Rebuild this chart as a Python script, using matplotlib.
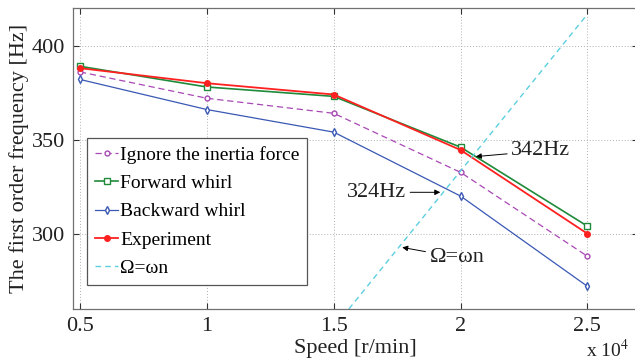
import matplotlib

matplotlib.use("Agg")
import matplotlib.pyplot as plt
from matplotlib.ticker import FuncFormatter


COLOR_IGNORE = "#a848b4"
COLOR_FORWARD = "#1f8a3a"
COLOR_BACKWARD = "#3a58b4"
COLOR_EXP = "#ff2020"
COLOR_OMEGA = "#5ccfe0"

speed_rpm = [5000, 10000, 15000, 20000, 25000]
freq_ignore = [386, 372, 364, 332.6, 288]
freq_forward = [389, 378, 373, 346, 304]
freq_backward = [382, 366, 354, 320, 272]
freq_experiment = [388, 380, 374, 344.5, 300]

# Omega = omega_n line, read at the bottom edge and at 2.5e4
omega_speed = [15600, 25000]
omega_freq = [260, 416.7]

plt.rcParams["font.family"] = ["Liberation Serif", "DejaVu Serif"]
plt.rcParams["mathtext.fontset"] = "stix"

fig = plt.figure(figsize=(6.35, 3.63), dpi=100)
ax = fig.add_axes([0.115, 0.149, 0.89, 0.829])

ax.plot(speed_rpm, freq_ignore, color=COLOR_IGNORE, lw=0.9, linestyle=(0, (5, 3)),
        marker="o", ms=3.5, mfc="white", mec=COLOR_IGNORE, label="Ignore the inertia force")
ax.plot(speed_rpm, freq_forward, color=COLOR_FORWARD, lw=1.2,
        marker="s", ms=4.5, mfc="white", mec=COLOR_FORWARD, label="Forward whirl")
ax.plot(speed_rpm, freq_backward, color=COLOR_BACKWARD, lw=0.9,
        marker="d", ms=4, mfc="white", mec=COLOR_BACKWARD, label="Backward whirl")
ax.plot(speed_rpm, freq_experiment, color=COLOR_EXP, lw=1.3,
        marker="o", ms=4, mfc=COLOR_EXP, mec=COLOR_EXP, label="Experiment")
ax.plot(omega_speed, omega_freq, color=COLOR_OMEGA, lw=1.0, linestyle=(0, (4, 3)),
        label="Ω=ωn")

ax.set_xlim(4725, 27000)
ax.set_ylim(260, 420)
ax.set_xticks(speed_rpm)
ax.set_yticks([300, 350, 400])
ax.xaxis.set_major_formatter(FuncFormatter(lambda v, p: f"{v / 1e4:g}"))

ax.tick_params(direction="in", length=4, width=0.8, top=True, right=True,
               labelsize=16, colors="#333333", labelcolor="#222222", pad=6)
for s in ax.spines.values():
    s.set_color("#707070")
    s.set_linewidth(0.9)
ax.grid(True, linestyle=(0, (1, 2)), color="#b0b0b0", lw=0.7)

ax.set_xlabel("Speed [r/min]", fontsize=16, color="#222222", labelpad=2)
ax.set_ylabel("The first order frequency [Hz]", fontsize=16, color="#222222", labelpad=2)
fig.text(0.923, 0.005, "x 10$^4$", fontsize=14, color="#222222", ha="left", va="bottom")

arrow = dict(arrowstyle="-|>", color="black", lw=0.7, mutation_scale=8, shrinkA=1, shrinkB=0)
ax.annotate("342Hz", xy=(20600, 341), xytext=(22000, 344), fontsize=16, color="#222222",
            ha="left", va="center", arrowprops=arrow)
ax.annotate("324Hz", xy=(19200, 322), xytext=(17850, 322), fontsize=16, color="#222222",
            ha="right", va="center", arrowprops=arrow)
ax.annotate("Ω=ωn", xy=(17700, 292.7), xytext=(18780, 287.4), fontsize=16, color="#222222",
            ha="left", va="center", arrowprops=arrow)

leg = ax.legend(loc="lower left", bbox_to_anchor=(0.025, 0.08), fontsize=14, fancybox=False,
                framealpha=1, edgecolor="#555555", handlelength=1.2, handletextpad=0.1,
                labelspacing=0.55, borderpad=0.4, borderaxespad=0)
leg.get_frame().set_linewidth(0.9)

fig.savefig("out.png", dpi=100)
